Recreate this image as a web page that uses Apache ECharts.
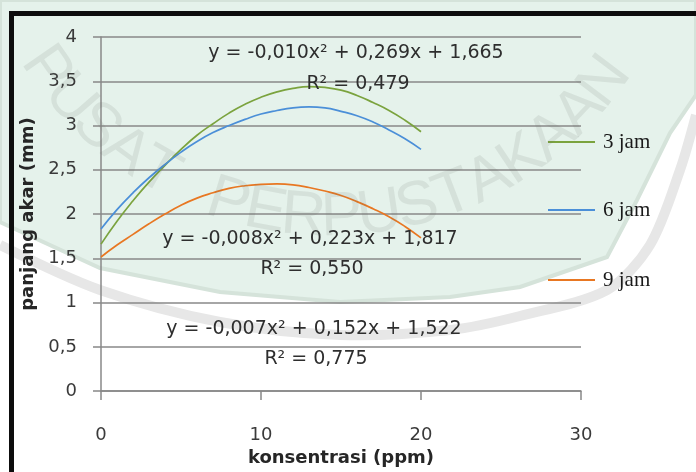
<!DOCTYPE html>
<html>
<head>
<meta charset="utf-8">
<script src="https://cdn.jsdelivr.net/npm/echarts@6/dist/echarts.min.js"></script>
<style>
  html, body { margin: 0; padding: 0; background: #fff; }
  #chart { width: 696px; height: 472px; }
</style>
</head>
<body>
<div id="chart"></div>
<script>
const konsentrasi = [0, 1, 2, 3, 4, 5, 6, 7, 8, 9, 10, 11, 12, 13, 14, 15, 16, 17, 18, 19, 20];
// panjang akar (mm)
const jam3 = [1.66, 1.92, 2.15, 2.36, 2.55, 2.73, 2.89, 3.02, 3.14, 3.24, 3.32,
  3.38, 3.42, 3.44, 3.43, 3.40, 3.34, 3.26, 3.17, 3.06, 2.93];
const jam6 = [1.83, 2.05, 2.24, 2.41, 2.56, 2.70, 2.82, 2.92, 3.00, 3.07, 3.13,
  3.17, 3.20, 3.21, 3.20, 3.16, 3.11, 3.04, 2.95, 2.85, 2.73];
const jam9 = [1.515, 1.65, 1.77, 1.89, 2.00, 2.10, 2.18, 2.24, 2.29, 2.32, 2.335,
  2.34, 2.33, 2.30, 2.26, 2.21, 2.14, 2.06, 1.97, 1.86, 1.73];
const seriesNames = ["3 jam", "6 jam", "9 jam"];
const seriesColors = ["#7ba33e", "#4b8fd8", "#e87722"];
const equations = [
  "y = -0,010x² + 0,269x + 1,665",
  "y = -0,008x² + 0,223x + 1,817",
  "y = -0,007x² + 0,152x + 1,522",
];
const rSquared = ["R² = 0,479", "R² = 0,550", "R² = 0,775"];

const pairs = (ys) => konsentrasi.map((x, i) => [x, ys[i]]);
const sans = "DejaVu Sans";
const gridCol = "#888888";

// background: scanned page with library watermark
var graphics = [];
graphics.push({
  type: "polygon",
  z: -100,
  shape: {
    points: [[0, 0], [696, 0], [696, 95], [670, 133], [637, 200], [607, 257],
      [520, 287], [450, 297], [340, 302], [220, 292], [100, 268], [0, 222]],
  },
  style: { fill: "#e5f2eb", stroke: "#d5e3da", lineWidth: 4 },
});
graphics.push({
  type: "polyline",
  z: -99,
  shape: {
    points: [[0, 245], [100, 290], [220, 322], [340, 335], [450, 330],
      [520, 316], [607, 290], [650, 245], [680, 170], [696, 115]],
    smooth: 0.3,
  },
  style: { stroke: "#e7e7e7", lineWidth: 10, fill: null },
});
// watermark letters along an arc
var wm = "PUSAT PERPUSTAKAAN";
for (var i = 0; i < wm.length; i++) {
  var phi = (-55.3 + i * 6.36) * Math.PI / 180;
  graphics.push({
    type: "text",
    z: 100,
    x: 330 + 345 * Math.sin(phi),
    y: -127 + 345 * Math.cos(phi),
    rotation: phi,
    style: {
      text: wm[i],
      font: "62px 'Liberation Sans'",
      fill: "rgba(95,105,100,0.12)",
      align: "center",
      verticalAlign: "middle",
    },
  });
}
// black frame of the scanned figure
graphics.push({ type: "rect", z: 50, shape: { x: 9, y: 11, width: 700, height: 5 }, style: { fill: "#0d0d0d" } });
graphics.push({ type: "rect", z: 50, shape: { x: 9, y: 11, width: 5, height: 470 }, style: { fill: "#0d0d0d" } });

// trendline equations
var eqPos = [[356, 53, 84], [310, 239, 269], [314, 329, 359]];
eqPos.forEach((p, k) => {
  graphics.push({
    type: "text", z: 60, x: p[0], y: p[1],
    style: { text: equations[k], font: "19px '" + sans + "'", fill: "#2e2e2e", align: "center", verticalAlign: "middle" },
  });
  graphics.push({
    type: "text", z: 60, x: p[0] + 2, y: p[2],
    style: { text: rSquared[k], font: "19px '" + sans + "'", fill: "#2e2e2e", align: "center", verticalAlign: "middle" },
  });
});

var legendTops = [130, 198, 268];
var legends = seriesNames.map((name, k) => ({
  data: [name],
  left: 548,
  top: legendTops[k],
  padding: 0,
  icon: "rect",
  itemWidth: 47,
  itemHeight: 2,
  textStyle: { fontFamily: "Liberation Serif", fontSize: 21, color: "#1a1a1a", lineHeight: 24, padding: [0, 0, 0, 3] },
}));

var myChart = echarts.init(document.getElementById("chart"));
var option = {
  backgroundColor: "#ffffff",
  animation: false,
  graphic: graphics,
  legend: legends,
  grid: { left: 101, right: 115, top: 37, bottom: 75, containLabel: false },
  xAxis: {
    type: "value",
    min: 0,
    max: 30,
    interval: 10,
    name: "konsentrasi (ppm)",
    nameLocation: "middle",
    nameGap: 52,
    nameTextStyle: { fontFamily: sans, fontSize: 18, fontWeight: "bold", color: "#262626" },
    axisLine: { lineStyle: { color: gridCol, width: 1.5 } },
    axisTick: { show: true, length: 9, lineStyle: { color: gridCol, width: 1.5 } },
    splitLine: { show: false },
    axisLabel: { margin: 35, fontFamily: sans, fontSize: 18, color: "#3a3a3a" },
  },
  yAxis: {
    type: "value",
    min: 0,
    max: 4,
    interval: 0.5,
    name: "panjang akar (mm)",
    nameLocation: "middle",
    nameGap: 54,
    nameRotate: 90,
    nameTextStyle: { fontFamily: sans, fontSize: 18, fontWeight: "bold", color: "#262626" },
    axisLine: { show: true, lineStyle: { color: gridCol, width: 1.5 } },
    axisTick: { show: true, length: 8, lineStyle: { color: gridCol, width: 1.5 } },
    splitLine: { show: true, lineStyle: { color: gridCol, width: 1.5 } },
    axisLabel: {
      margin: 24,
      fontFamily: sans,
      fontSize: 18,
      color: "#3a3a3a",
      formatter: (v) => String(v).replace(".", ","),
    },
  },
  series: [jam3, jam6, jam9].map((ys, k) => ({
    name: seriesNames[k],
    type: "line",
    data: pairs(ys),
    smooth: true,
    symbol: "none",
    color: seriesColors[k],
    lineStyle: { width: 1.7, color: seriesColors[k] },
  })),
};
myChart.setOption(option);
</script>
</body>
</html>
